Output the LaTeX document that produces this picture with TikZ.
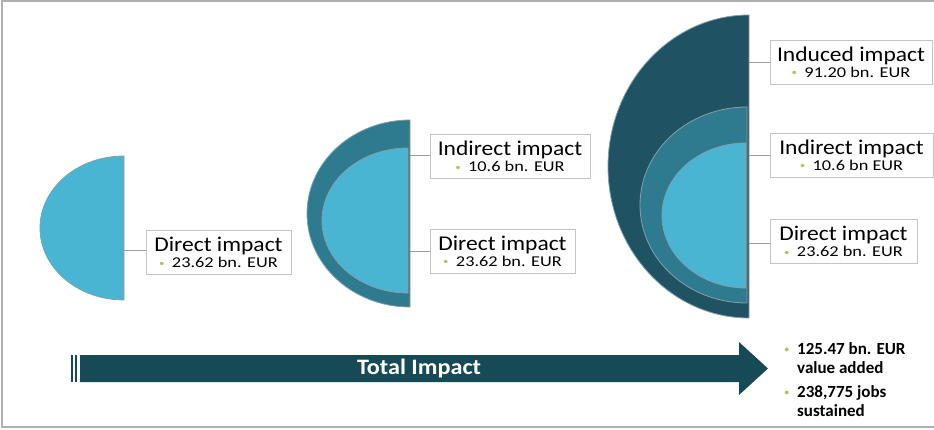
\documentclass[tikz,border=0pt]{standalone}
\usepackage{fontspec}
\setmainfont{Carlito}
\usepackage{xcolor}
\usepackage{graphicx}
\usetikzlibrary{positioning}

\definecolor{lightcyan}{HTML}{4AB5D3}
\definecolor{midteal}{HTML}{2E7B8F}
\definecolor{darkteal}{HTML}{1F5262}
\definecolor{arrowteal}{HTML}{164A57}
\definecolor{edgegray}{HTML}{8C9CA2}
\definecolor{boxgray}{HTML}{C4C4C4}
\definecolor{bulletgreen}{HTML}{A9C84E}

\newcommand{\greenbullet}{\textcolor{bulletgreen}{\raisebox{1.5pt}{\fontsize{9}{9}\selectfont\textbullet}}}
\newcommand{\impactlabel}[2]{%
  \scalebox{1.12}[1]{\fontsize{21}{22}\selectfont #1}\\[1.5pt]
  \scalebox{1.22}[1]{\fontsize{15}{16}\selectfont\greenbullet\hspace{6pt}#2}}

\begin{document}
\begin{tikzpicture}[x=1pt,y=1pt]

  \tikzset{impact box/.style={
      draw=boxgray, line width=0.8pt,
      minimum width=#1, minimum height=44pt,
      inner sep=0pt, align=center
    },
    impact box/.default=145pt,
    half/.style={draw=edgegray, line width=0.8pt},
    link/.style={draw=boxgray!80!black, line width=0.8pt},
    total/.style={font=\bfseries\fontsize{17}{19.5}\selectfont, align=left, anchor=north west, inner sep=0pt}
  }

  \useasboundingbox (0,0) rectangle (934,429);
  \draw[boxgray!90!black, line width=1.5pt] (934,428) -- (2,428) -- (2,2) -- (934,2);

  % first step: direct only
  \filldraw[half, fill=lightcyan] (124,273) arc[start angle=90, end angle=270, x radius=84pt, y radius=72pt] -- cycle;
  \coordinate (d1) at (124,179);
  \node[impact box] (b1) at (218.5,176.5) {\impactlabel{Direct impact}{23.62 bn. EUR}};

  % second step: direct + indirect
  \filldraw[half, fill=midteal] (410,309) arc[start angle=90, end angle=270, x radius=103pt, y radius=93.5pt] -- cycle;
  \filldraw[half, fill=lightcyan] (408,281) arc[start angle=90, end angle=270, x radius=86pt, y radius=72.5pt] -- cycle;
  \coordinate (d2i) at (410,274);
  \coordinate (d2d) at (410,178);
  \node[impact box=160pt] (b2i) at (510,272.5) {\impactlabel{Indirect impact}{10.6 bn. EUR}};
  \node[impact box] (b2d) at (502.5,178) {\impactlabel{Direct impact}{23.62 bn. EUR}};

  % third step: direct + indirect + induced
  \filldraw[half, fill=darkteal] (749,414) arc[start angle=90, end angle=270, x radius=141pt, y radius=151.5pt] -- cycle;
  \filldraw[half, fill=midteal] (747,322) arc[start angle=90, end angle=270, x radius=107pt, y radius=98pt] -- cycle;
  \filldraw[half, fill=lightcyan] (746,286) arc[start angle=90, end angle=270, x radius=84pt, y radius=72.5pt] -- cycle;
  \coordinate (d3u) at (749,367);
  \coordinate (d3i) at (749,274);
  \coordinate (d3d) at (749,186);
  \node[impact box=162pt] (b3u) at (851,367) {\impactlabel{Induced impact}{91.20 bn. EUR}};
  \node[impact box=163pt] (b3i) at (851.5,274) {\impactlabel{Indirect impact}{10.6 bn EUR}};
  \node[impact box=147pt] (b3d) at (843.5,187.5) {\impactlabel{Direct impact}{23.62 bn. EUR}};

  \foreach \d/\b in {d1/b1, d2i/b2i, d2d/b2d, d3u/b3u, d3i/b3i, d3d/b3d}
    \draw[link] (\d) -- (\d -| \b.west);

  % total arrow
  \fill[arrowteal] (71,47) rectangle (73,74);
  \fill[arrowteal] (75,47) rectangle (77,74);
  \fill[arrowteal] (80,47) -- (739,47) -- (739,34) -- (768,60.5) -- (739,87) -- (739,74) -- (80,74) -- cycle;
  \node[text=white, font=\bfseries\fontsize{22}{24}\selectfont] (tot) at (419,60) {\scalebox{1.1}[1]{Total Impact}};

  \node[total] (va) at (797,87) {\llap{\greenbullet\hspace{8pt}}125.47 bn. EUR\\value added};
  \node[total, below=11pt of va.south west, anchor=north west] (jobs) {\llap{\greenbullet\hspace{8pt}}238,775 jobs\\sustained};

\end{tikzpicture}
\end{document}
